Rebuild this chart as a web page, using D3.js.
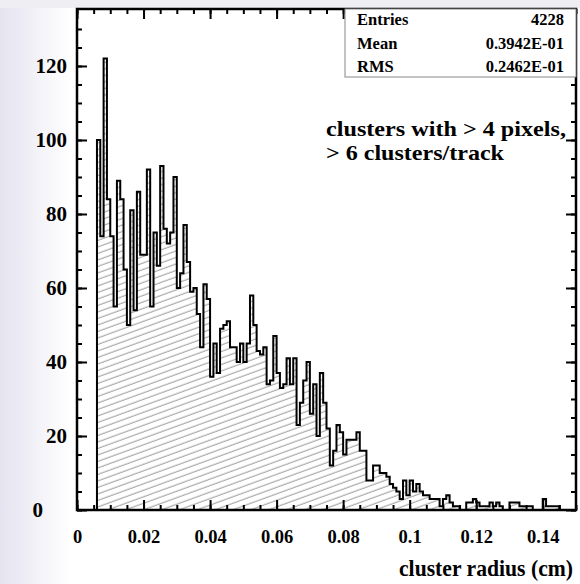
<!DOCTYPE html>
<html>
<head>
<meta charset="utf-8">
<script src="https://cdn.jsdelivr.net/npm/d3@7"></script>
<style>
  body { margin: 0; background: #fff; }
  svg { display: block; font-family: "Liberation Serif", "Times New Roman", serif; font-weight: bold; }
</style>
</head>
<body>
<div id="chart"></div>
<script>
// histogram contents, one count per 0.001 cm bin starting at 0
const binWidth = 0.001;
const counts = [
  0, 0, 0, 0, 0, 0, 100, 74, 122, 84,
  74, 55, 89, 84, 65, 50, 81, 54, 86, 69,
  69, 92, 55, 75, 66, 93, 76, 72, 75, 90,
  60, 64, 77, 67, 59, 60, 53, 44, 61, 57,
  36, 45, 37, 49, 50, 51, 44, 44, 40, 45,
  40, 45, 58, 50, 43, 42, 44, 34, 35, 47,
  37, 33, 34, 41, 34, 41, 23, 29, 35, 40,
  26, 34, 20, 37, 29, 22, 12, 16, 23, 21,
  15, 19, 19, 19, 21, 16, 16, 8, 8, 12,
  12, 10, 10, 9, 7, 6, 5, 3, 8, 4,
  8, 5, 7, 5, 4, 4, 3, 3, 3, 1,
  3, 4, 2, 1, 1, 0, 0, 2, 2, 3,
  2, 1, 1, 1, 2, 1, 2, 1, 0, 0,
  2, 2, 2, 1, 1, 1, 1, 0, 0, 0,
  3, 1, 1, 1, 1, 0, 0, 0, 0, 0
];
const xTicks = [0, 0.02, 0.04, 0.06, 0.08, 0.1, 0.12, 0.14];
const yTicks = [0, 20, 40, 60, 80, 100, 120];
const statLabels = ["Entries", "Mean", "RMS"];
const statValues = ["4228", "0.3942E-01", "0.2462E-01"];
const noteLines = ["clusters with > 4 pixels,", "> 6 clusters/track"];
const xTitle = "cluster radius (cm)";

const width = 580;
const height = 584;
const fl = 77, fr = 576, ft = 9, fb = 510;

const svg = d3.select("#chart").append("svg")
  .attr("width", width)
  .attr("height", height);

const defs = svg.append("defs");
const grad = defs.append("linearGradient").attr("id", "bg").attr("x1", 0).attr("x2", 1);
grad.append("stop").attr("offset", 0).attr("stop-color", "#e4e3f0");
grad.append("stop").attr("offset", 1).attr("stop-color", "#ffffff");
svg.append("rect").attr("width", 70).attr("height", height).attr("fill", "url(#bg)");
svg.append("rect").attr("width", width).attr("height", 8).attr("fill", "#eeeef3");

const hatch = defs.append("pattern")
  .attr("id", "hatch")
  .attr("patternUnits", "userSpaceOnUse")
  .attr("width", 17).attr("height", 6.5)
  .attr("patternTransform", "skewY(-20)");
hatch.append("line")
  .attr("x1", 0).attr("x2", 17).attr("y1", 3).attr("y2", 3)
  .attr("stroke", "#7a7a7a").attr("stroke-width", 0.8);

const x = d3.scaleLinear().domain([0, 0.15]).range([fl, fr]);
const y = d3.scaleLinear().domain([0, 135.4]).range([fb, ft]);

// histogram as a step outline
const pts = counts.map((c, i) => [i * binWidth, c]);
pts.push([counts.length * binWidth, 0]);

const area = d3.area()
  .x(d => x(d[0]))
  .y0(y(0))
  .y1(d => y(d[1]))
  .curve(d3.curveStepAfter);
const line = d3.line()
  .x(d => x(d[0]))
  .y(d => y(d[1]))
  .curve(d3.curveStepAfter);

svg.append("path")
  .datum(pts)
  .attr("d", area)
  .attr("fill", "url(#hatch)");
svg.append("path")
  .datum(pts)
  .attr("d", line)
  .attr("fill", "none")
  .attr("stroke", "#000")
  .attr("stroke-width", 2);

// axes, ticks point into the frame
const xMinor = d3.range(0, 0.1501, 0.005);
const yMinor = d3.range(0, 135, 5);

function styleAxis(g) {
  g.select(".domain").remove();
  g.selectAll(".tick line").attr("stroke", "#000").attr("stroke-width", 2);
  g.selectAll("text").attr("fill", "#000").attr("font-family", "Liberation Serif").attr("font-weight", "bold");
}

svg.append("g").attr("transform", `translate(0,${fb})`)
  .call(d3.axisBottom(x).tickValues(xMinor).tickSize(-5).tickFormat(""))
  .call(styleAxis);
svg.append("g").attr("transform", `translate(0,${fb})`)
  .call(d3.axisBottom(x).tickValues(xTicks).tickSize(-10).tickPadding(20)
    .tickFormat(d => d === 0 ? "0" : d3.format("")(+d.toFixed(2))))
  .call(styleAxis)
  .selectAll("text").attr("font-size", 18.5);
svg.append("g").attr("transform", `translate(0,${ft})`)
  .call(d3.axisTop(x).tickValues(xMinor).tickSize(-5).tickFormat(""))
  .call(styleAxis);
svg.append("g").attr("transform", `translate(0,${ft})`)
  .call(d3.axisTop(x).tickValues(xTicks).tickSize(-10).tickFormat(""))
  .call(styleAxis);

svg.append("g").attr("transform", `translate(${fl},0)`)
  .call(d3.axisLeft(y).tickValues(yMinor).tickSize(-5).tickFormat(""))
  .call(styleAxis);
svg.append("g").attr("transform", `translate(${fl},0)`)
  .call(d3.axisLeft(y).tickValues(yTicks).tickSize(-10).tickPadding(10))
  .call(styleAxis)
  .selectAll("text")
  .attr("font-size", 21)
  .attr("dx", d => d === 0 ? -24 : 0);
svg.append("g").attr("transform", `translate(${fr},0)`)
  .call(d3.axisRight(y).tickValues(yMinor).tickSize(-5).tickFormat(""))
  .call(styleAxis);
svg.append("g").attr("transform", `translate(${fr},0)`)
  .call(d3.axisRight(y).tickValues(yTicks).tickSize(-10).tickFormat(""))
  .call(styleAxis);

// frame
svg.append("rect")
  .attr("x", fl).attr("y", ft)
  .attr("width", fr - fl).attr("height", fb - ft)
  .attr("fill", "none").attr("stroke", "#000").attr("stroke-width", 2.5);

// statistics box
const box = svg.append("g");
box.append("rect")
  .attr("x", 345).attr("y", ft)
  .attr("width", fr - 345).attr("height", 77 - ft)
  .attr("fill", "#fff").attr("stroke", "#888").attr("stroke-width", 1);
statLabels.forEach((s, i) => {
  box.append("text").attr("x", 357).attr("y", 25 + i * 23.5)
    .attr("font-size", 16.5).text(s);
  box.append("text").attr("x", 564).attr("y", 25 + i * 23.5)
    .attr("font-size", 16.5).attr("text-anchor", "end").text(statValues[i]);
});

// note
noteLines.forEach((s, i) => {
  svg.append("text").attr("x", 326).attr("y", 136 + i * 24)
    .attr("font-size", 21)
    .attr("textLength", i === 0 ? 240 : 178)
    .attr("lengthAdjust", "spacingAndGlyphs")
    .text(s);
});

// axis title
svg.append("text")
  .attr("x", 573).attr("y", 576)
  .attr("text-anchor", "end")
  .attr("font-size", 22.5)
  .attr("textLength", 174)
  .attr("lengthAdjust", "spacingAndGlyphs")
  .text(xTitle);
</script>
</body>
</html>
